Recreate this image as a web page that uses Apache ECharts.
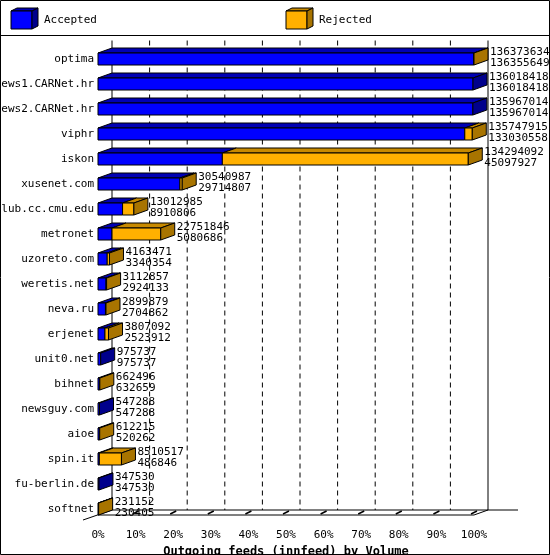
<!DOCTYPE html>
<html>
<head>
<meta charset="utf-8">
<script src="https://cdn.jsdelivr.net/npm/echarts@6/dist/echarts.min.js"></script>
<style>html,body{margin:0;padding:0;background:#fff}#c{width:550px;height:555px}</style>
</head>
<body>
<div id="c"></div>
<script>
// innfeed outgoing volume per peer
var hosts = ['optima', 'news1.CARNet.hr', 'news2.CARNet.hr', 'viphr', 'iskon', 'xusenet.com',
  'club.cc.cmu.edu', 'metronet', 'uzoreto.com', 'weretis.net', 'neva.ru', 'erjenet', 'unit0.net',
  'bihnet', 'newsguy.com', 'aioe', 'spin.it', 'fu-berlin.de', 'softnet'];
var offered = [136373634, 136018418, 135967014, 135747915, 134294092, 30540987, 13012985, 22751846,
  4163471, 3112857, 2899879, 3807092, 975737, 662496, 547288, 612215, 8510517, 347530, 231152];
var accepted = [136355649, 136018418, 135967014, 133030558, 45097927, 29714807, 8910806, 5080686,
  3340354, 2924133, 2704862, 2523912, 975737, 632659, 547288, 520262, 486846, 347530, 230405];
var pctTicks = [0, 10, 20, 30, 40, 50, 60, 70, 80, 90, 100];

var maxVal = Math.max.apply(null, offered);
var DX = 14, DY = 5, HALF = 6;
var FONT = '11px "DejaVu Sans Mono", monospace';
var BLUE = ['#0000ff', '#0000b4', '#00008c'];   // front, top, side
var ORANGE = ['#ffb000', '#c88a00', '#a87400'];

function box(x0, x1, yc, col, withSide) {
  var y0 = yc - HALF, y1 = yc + HALF, out = [];
  out.push({ type: 'polygon', shape: { points: [[x0, y0], [x0 + DX, y0 - DY], [x1 + DX, y0 - DY], [x1, y0]] },
    style: { fill: col[1], stroke: '#000', lineWidth: 1 } });
  out.push({ type: 'rect', shape: { x: x0, y: y0, width: x1 - x0, height: y1 - y0 },
    style: { fill: col[0], stroke: '#000', lineWidth: 1 } });
  if (withSide) out.push({ type: 'polygon', shape: { points: [[x1, y0], [x1 + DX, y0 - DY], [x1 + DX, y1 - DY], [x1, y1]] },
    style: { fill: col[2], stroke: '#000', lineWidth: 1 } });
  return out;
}

var chart = echarts.init(document.getElementById('c'));
chart.setOption({
  animation: false,
  grid: { left: 98, right: 76, top: 46.5, bottom: 33.5, containLabel: false, outerBoundsMode: 'none' },
  xAxis: {
    type: 'value', min: 0, max: maxVal, interval: maxVal / 10,
    axisLine: { show: false }, axisTick: { show: false }, splitLine: { show: false },
    axisLabel: { formatter: function (v) { return Math.round(v / maxVal * 100) + '%'; },
      fontFamily: 'DejaVu Sans Mono', fontSize: 11, color: '#000', margin: 8 },
    name: 'Outgoing feeds (innfeed) by Volume', nameLocation: 'middle', nameGap: 23,
    nameTextStyle: { fontFamily: 'DejaVu Sans Mono', fontSize: 12, fontWeight: 'bold', color: '#000' }
  },
  yAxis: {
    type: 'category', data: hosts, inverse: true,
    axisLine: { show: false }, axisTick: { show: false },
    axisLabel: { fontFamily: 'DejaVu Sans Mono', fontSize: 11, color: '#000', margin: 4 }
  },
  graphic: [
    { type: 'rect', shape: { x: 0.5, y: 0.5, width: 549, height: 554 }, style: { fill: 'none', stroke: '#000', lineWidth: 1 } },
    { type: 'line', shape: { x1: 0, y1: 35.5, x2: 550, y2: 35.5 }, style: { stroke: '#000', lineWidth: 1 } },
    { type: 'polygon', shape: { points: [[11, 11], [17, 8], [38, 8], [32, 11]] }, style: { fill: BLUE[1], stroke: '#000' } },
    { type: 'rect', shape: { x: 11, y: 11, width: 21, height: 18 }, style: { fill: BLUE[0], stroke: '#000' } },
    { type: 'polygon', shape: { points: [[32, 11], [38, 8], [38, 26], [32, 29]] }, style: { fill: BLUE[2], stroke: '#000' } },
    { type: 'text', x: 44, y: 20, style: { text: 'Accepted', font: FONT, fill: '#000', verticalAlign: 'middle' } },
    { type: 'polygon', shape: { points: [[286, 11], [292, 8], [313, 8], [307, 11]] }, style: { fill: ORANGE[1], stroke: '#000' } },
    { type: 'rect', shape: { x: 286, y: 11, width: 21, height: 18 }, style: { fill: ORANGE[0], stroke: '#000' } },
    { type: 'polygon', shape: { points: [[307, 11], [313, 8], [313, 26], [307, 29]] }, style: { fill: ORANGE[2], stroke: '#000' } },
    { type: 'text', x: 319, y: 20, style: { text: 'Rejected', font: FONT, fill: '#000', verticalAlign: 'middle' } }
  ],
  series: [
    {
      // back-plane gridlines and floor
      type: 'custom', z: 1, silent: true,
      data: pctTicks.map(function (p) { return [p / 100 * maxVal]; }),
      renderItem: function (params, api) {
        var cs = params.coordSys;
        var x = api.coord([api.value(0), 0])[0];
        var floorY = api.coord([0, hosts.length - 1])[1] + HALF;
        var p = pctTicks[params.dataIndex];
        var solid = p === 0 || p === 100;
        var els = [{ type: 'line', shape: { x1: x + DX, y1: cs.y - 6, x2: x + DX, y2: floorY - DY },
          style: { stroke: '#000', lineWidth: 1, lineDash: solid ? null : [5, 4] } }];
        if (params.dataIndex === 0) {
          var x100 = api.coord([maxVal, 0])[0];
          els.push({ type: 'line', shape: { x1: x - 15, y1: floorY + 5, x2: x + DX, y2: floorY - DY }, style: { stroke: '#000' } });
          els.push({ type: 'line', shape: { x1: x + DX, y1: floorY - DY, x2: x100 + DX + 30, y2: floorY - DY }, style: { stroke: '#000' } });
          els.push({ type: 'line', shape: { x1: x, y1: floorY, x2: x100, y2: floorY }, style: { stroke: '#000' } });
          els.push({ type: 'line', shape: { x1: x100, y1: floorY, x2: x100 + DX, y2: floorY - DY }, style: { stroke: '#000' } });
        } else {
          els.push({ type: 'line', shape: { x1: x - 3, y1: floorY - 1, x2: x + 3, y2: floorY - 4 }, style: { stroke: '#000', lineWidth: 1.5 } });
        }
        return { type: 'group', children: els };
      }
    },
    {
      type: 'custom', z: 2, silent: true,
      data: hosts.map(function (h, i) { return [i, accepted[i], offered[i]]; }),
      renderItem: function (params, api) {
        var i = api.value(0), acc = api.value(1), off = api.value(2);
        var yc = api.coord([0, i])[1];
        var x0 = api.coord([0, i])[0];
        var xa = api.coord([acc, i])[0];
        var xo = api.coord([off, i])[0];
        var rej = off > acc;
        var els = box(x0, xa, yc, BLUE, !rej);
        if (rej) els = els.concat(box(xa, xo, yc, ORANGE, true));
        els.push({ type: 'text', x: xo + DX + 2, y: yc - 1, style: {
          text: off + '\n' + acc, font: FONT, fill: '#000', lineHeight: 11, verticalAlign: 'middle' } });
        return { type: 'group', children: els };
      }
    }
  ]
});
</script>
</body>
</html>
